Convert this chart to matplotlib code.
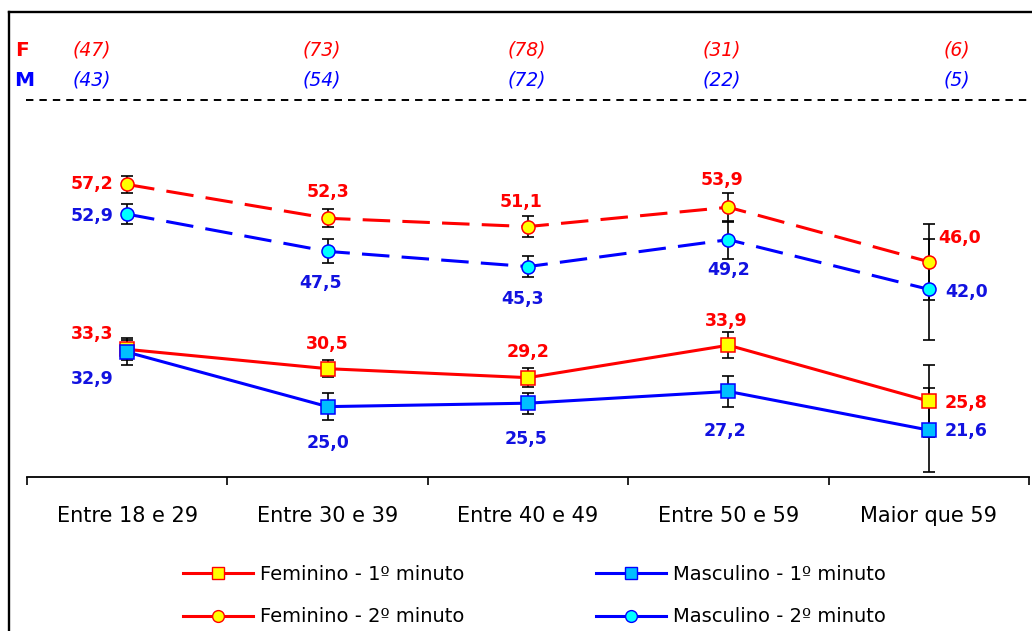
import matplotlib
matplotlib.use('Agg')
import matplotlib.pyplot as plt
from matplotlib.lines import Line2D

# age groups and sample sizes per sex
categories = ['Entre 18 e 29', 'Entre 30 e 39', 'Entre 40 e 49', 'Entre 50 e 59', 'Maior que 59']
n_fem = [47, 73, 78, 31, 6]
n_masc = [43, 54, 72, 22, 5]

# means and error bar half-widths
fem_1min = [33.3, 30.5, 29.2, 33.9, 25.8]
fem_1min_err = [1.6, 1.25, 1.35, 1.85, 5.2]
masc_1min = [32.9, 25.0, 25.5, 27.2, 21.6]
masc_1min_err = [1.8, 2.0, 1.5, 2.2, 6.1]
fem_2min = [57.2, 52.3, 51.1, 53.9, 46.0]
fem_2min_err = [1.3, 1.3, 1.55, 2.1, 5.5]
masc_2min = [52.9, 47.5, 45.3, 49.2, 42.0]
masc_2min_err = [1.4, 1.75, 1.55, 2.75, 7.3]

RED = '#FF0000'
BLUE = '#0000FF'
BLUE_TXT = '#1212E0'
W, H = 1032, 631

fig = plt.figure(figsize=(W / 100, H / 100), dpi=100)
fig.patch.set_facecolor('white')
ax = fig.add_axes([27 / W, 1 - 477 / H, (1029 - 27) / W, (477 - 12) / H])
x = list(range(len(categories)))

series = [
    (fem_1min, fem_1min_err, RED, '-', 's', '#FFFF00', 'Feminino - 1º minuto'),
    (fem_2min, fem_2min_err, RED, (0, (9, 4)), 'o', '#FFFF00', 'Feminino - 2º minuto'),
    (masc_1min, masc_1min_err, BLUE, '-', 's', '#00BFFF', 'Masculino - 1º minuto'),
    (masc_2min, masc_2min_err, BLUE, (0, (9, 4)), 'o', '#00FFFF', 'Masculino - 2º minuto'),
]

for vals, err, col, ls, mk, fc, lab in series:
    ax.errorbar(x, vals, yerr=err, fmt='none', ecolor='black', elinewidth=1.2,
                capsize=4.3, capthick=1.2, zorder=2)
    ax.plot(x, vals, color=col, linestyle=ls, linewidth=2.2, zorder=3)
    ax.plot(x, vals, linestyle='none', marker=mk, markersize=9.4,
            markerfacecolor=fc, markeredgecolor=col, markeredgewidth=1.1, zorder=4)

# label offsets in pixels (dx, dy, ha)
off_f1 = [(-14, 15, 'right'), (0, 25, 'center'), (0, 26, 'center'), (-2, 24, 'center'), (16, -2, 'left')]
off_m1 = [(-14, -27, 'right'), (0, -36, 'center'), (-2, -36, 'center'), (-3, -40, 'center'), (16, -1, 'left')]
off_f2 = [(-14, 0, 'right'), (0, 26, 'center'), (-7, 25, 'center'), (-6, 27, 'center'), (9, 24, 'left')]
off_m2 = [(-14, -2, 'right'), (-7, -32, 'center'), (-5, -32, 'center'), (0, -30, 'center'), (16, -3, 'left')]

for vals, offs, col in [(fem_1min, off_f1, RED), (masc_1min, off_m1, BLUE_TXT),
                        (fem_2min, off_f2, RED), (masc_2min, off_m2, BLUE_TXT)]:
    for xi, v, (dx, dy, ha) in zip(x, vals, offs):
        ax.annotate(f'{v:.1f}'.replace('.', ','), (xi, v), xytext=(dx, dy),
                    textcoords='offset pixels', ha=ha, va='center',
                    fontsize=12.5, fontweight='bold', color=col, zorder=5)

ax.set_xlim(-0.5, 4.5)
ax.set_ylim(14.8, 82.2)
for s in ['left', 'right', 'top']:
    ax.spines[s].set_visible(False)
ax.spines['bottom'].set_linewidth(1.3)
ax.set_yticks([])
ax.set_xticks(x)
ax.set_xticklabels(categories, fontsize=15)
ax.set_xticks([i - 0.5 for i in range(len(categories) + 1)], minor=True)
ax.tick_params(axis='x', which='major', length=0, pad=21)
ax.tick_params(axis='x', which='minor', length=6, width=1.2, direction='out')
ax.patch.set_visible(False)

# sample sizes above the plot
fig.text(15 / W, 1 - 50 / H, 'F', color=RED, fontsize=14.5, fontweight='bold', va='center')
fig.text(14 / W, 1 - 80 / H, 'M', color=BLUE, fontsize=14.5, fontweight='bold', va='center')
count_x = [92, 322, 527, 722, 957]
for cx, nf, nm in zip(count_x, n_fem, n_masc):
    fig.text(cx / W, 1 - 50 / H, f'({nf})', color=RED, fontsize=13.5, style='italic',
             ha='center', va='center')
    fig.text(cx / W, 1 - 80 / H, f'({nm})', color=BLUE, fontsize=13.5, style='italic',
             ha='center', va='center')
fig.add_artist(Line2D([26 / W, 1], [1 - 99.5 / H] * 2, color='black', lw=1.4,
                      linestyle=(0, (3.8, 3.1))))

# outer frame (left and top edges)
fig.add_artist(Line2D([9 / W, 9 / W], [0, 1 - 12 / H], color='black', lw=1.7))
fig.add_artist(Line2D([9 / W, 1], [1 - 12 / H] * 2, color='black', lw=1.7))

handles = []
for vals, err, col, ls, mk, fc, lab in series:
    handles.append(Line2D([], [], color=col, lw=2.2, marker=mk, markersize=8.5,
                          markerfacecolor=fc, markeredgecolor=col, markeredgewidth=1.0,
                          label=lab))
fig.legend(handles=handles, ncol=2, loc='upper left', bbox_to_anchor=(183 / W, 1 - 565 / H),
           frameon=False, fontsize=14, handlelength=3.6, handletextpad=0.35,
           columnspacing=6.8, labelspacing=1.2, borderpad=0, borderaxespad=0)

fig.savefig('out.png', dpi=100)
